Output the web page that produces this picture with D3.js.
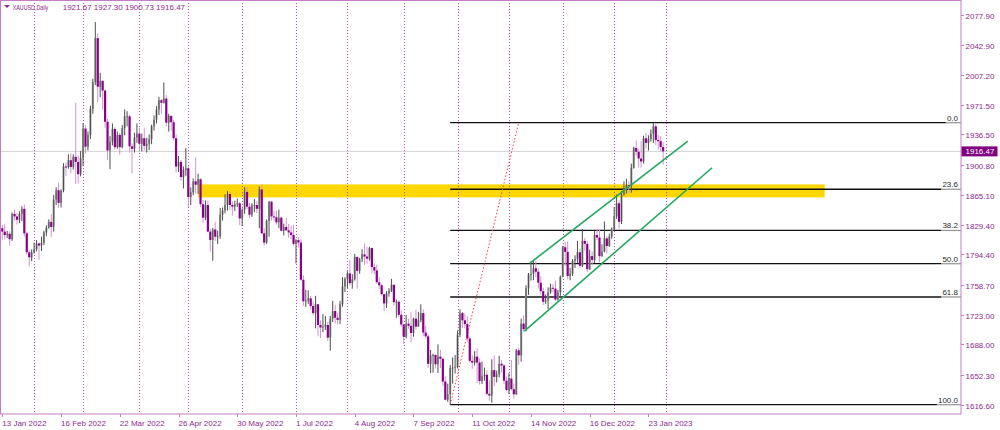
<!DOCTYPE html>
<html><head><meta charset="utf-8">
<script src="https://cdn.jsdelivr.net/npm/d3@7"></script>
<style>
body{margin:0;background:#fff;}
svg{display:block;}
text{font-family:"Liberation Sans",Arial,sans-serif;}
</style>
</head><body>
<svg id="chart" width="1000" height="430"></svg>
<script>
// ---------- DATA ----------
const symbolName = "XAUUSD,Daily";
const firstDay = "2022-01-13";
const lastDay = "2023-01-31";
const closedDays = ["2022-04-15", "2022-12-26", "2023-01-02"];

const open = [
1825.5,1821.5,1817.5,1819.0,1812.5,1842.5,1839.5,1835.5,1842.5,1848.5,
1819.5,1797.0,1791.0,1797.0,1801.0,1807.5,1805.0,1808.0,1820.5,1826.0,
1833.0,1827.0,1859.5,1870.5,1855.5,1870.0,1898.5,1898.0,1906.0,1898.0,
1910.0,1904.0,1889.5,1908.5,1943.5,1922.0,1936.0,1966.5,1998.5,2050.5,
1993.0,2000.0,1988.5,1951.5,1917.5,1928.0,1943.0,1921.5,1936.0,1921.5,
1944.0,1958.0,1958.0,1922.5,1919.5,1933.0,1937.5,1925.5,1932.0,1923.0,
1925.5,1931.0,1946.0,1954.0,1966.0,1977.0,1974.0,1979.0,1950.5,1958.5,
1951.0,1932.0,1898.5,1904.0,1886.0,1894.5,1896.5,1862.5,1868.0,1881.0,
1877.0,1883.5,1854.0,1838.0,1853.0,1821.5,1811.5,1824.0,1815.5,1816.0,
1841.5,1846.5,1853.0,1866.0,1853.0,1851.0,1853.5,1855.0,1837.0,1847.5,
1868.5,1851.0,1841.5,1852.5,1853.0,1848.5,1871.5,1819.5,1808.5,1834.0,
1857.0,1839.5,1838.5,1832.5,1838.0,1822.5,1827.0,1823.0,1820.5,1817.5,
1807.0,1811.5,1808.5,1764.5,1739.0,1740.0,1742.5,1733.5,1725.0,1735.5,
1711.0,1708.0,1709.0,1711.0,1696.0,1718.5,1727.5,1719.5,1717.0,1735.5,
1756.5,1765.5,1772.0,1760.5,1765.0,1791.5,1775.0,1789.0,1794.5,1792.0,
1789.5,1802.0,1779.5,1775.5,1761.5,1758.0,1747.5,1736.5,1748.5,1751.5,
1758.5,1738.0,1738.5,1723.0,1711.5,1697.0,1712.5,1710.0,1701.5,1718.5,
1709.0,1716.5,1725.0,1702.0,1697.5,1665.0,1675.0,1675.5,1664.5,1673.5,
1671.0,1644.0,1622.5,1629.0,1660.0,1660.5,1661.5,1699.5,1725.0,1716.5,
1712.0,1695.0,1668.5,1666.5,1673.5,1666.5,1644.5,1650.5,1652.0,1629.5,
1627.5,1657.5,1649.5,1652.5,1665.0,1663.0,1645.0,1634.0,1647.5,1635.0,
1629.0,1681.0,1675.0,1712.5,1706.0,1754.5,1771.0,1771.5,1778.0,1774.0,
1761.0,1751.0,1738.5,1740.0,1749.5,1755.0,1754.0,1741.0,1749.5,1768.0,
1803.0,1797.5,1769.0,1771.5,1787.0,1789.5,1797.0,1781.0,1810.5,1807.0,
1777.0,1792.5,1788.0,1817.5,1814.5,1792.5,1798.0,1813.5,1804.5,1815.5,
1824.0,1839.5,1855.0,1833.0,1865.5,1872.0,1876.5,1875.5,1897.0,1920.5,
1916.0,1908.0,1904.5,1932.0,1926.5,1931.0,1937.5,1946.0,1930.0,1928.5,
1921.67];

const high = [
1829.5,1831.0,1822.5,1822.0,1844.0,1847.5,1843.5,1845.5,1851.5,1853.5,
1821.5,1799.5,1800.5,1808.5,1811.5,1808.5,1815.5,1822.5,1829.0,1836.0,
1842.0,1865.0,1874.0,1879.5,1871.5,1902.5,1903.0,1913.0,1914.0,1913.0,
1974.0,1911.5,1917.0,1950.0,1947.5,1940.0,1970.5,2002.5,2069.5,2056.0,
2009.5,2000.5,1989.5,1955.0,1934.5,1949.5,1945.0,1940.0,1938.5,1947.5,
1966.0,1964.0,1960.0,1926.0,1938.5,1949.5,1944.5,1937.5,1944.5,1932.5,
1936.5,1948.0,1959.0,1970.0,1981.0,1978.5,1998.0,1983.0,1961.0,1958.5,
1954.0,1936.5,1911.0,1906.5,1898.5,1920.5,1899.0,1874.0,1884.5,1909.5,
1890.0,1884.5,1859.0,1858.5,1858.5,1825.0,1826.0,1833.0,1822.5,1849.5,
1850.0,1865.5,1869.5,1868.5,1857.5,1858.0,1860.5,1856.5,1849.0,1874.0,
1874.0,1855.0,1855.0,1860.0,1857.5,1875.0,1877.5,1825.5,1836.0,1857.5,
1857.0,1846.0,1846.5,1847.5,1839.0,1831.0,1837.5,1830.5,1828.5,1829.5,
1812.5,1815.0,1812.5,1770.0,1752.5,1752.0,1745.5,1738.5,1745.5,1736.0,
1716.5,1724.0,1721.5,1714.5,1721.5,1739.5,1735.0,1725.5,1739.5,1767.5,
1767.5,1774.5,1788.0,1771.0,1795.0,1792.0,1790.5,1800.5,1807.5,1803.5,
1803.5,1802.5,1783.5,1782.5,1767.5,1759.5,1748.0,1751.0,1754.5,1765.5,
1759.5,1741.0,1740.0,1728.0,1712.5,1723.0,1718.5,1726.0,1719.5,1729.0,
1726.5,1735.5,1729.5,1710.0,1700.0,1681.5,1677.0,1676.0,1688.0,1681.5,
1672.5,1650.0,1641.5,1663.5,1672.5,1675.5,1704.5,1729.5,1726.5,1724.5,
1721.5,1697.0,1675.5,1680.0,1683.5,1671.5,1667.5,1660.5,1657.0,1645.5,
1670.5,1675.0,1657.0,1674.5,1669.5,1664.5,1650.0,1654.0,1669.5,1641.5,
1682.5,1684.0,1718.5,1722.5,1758.0,1772.5,1786.0,1787.0,1786.5,1777.5,
1768.5,1755.0,1747.0,1755.5,1760.0,1759.5,1763.5,1752.5,1769.5,1804.5,
1809.5,1810.0,1778.5,1789.0,1793.5,1810.5,1801.0,1824.5,1814.0,1810.5,
1800.0,1798.0,1822.5,1825.0,1823.5,1806.5,1833.5,1816.0,1819.0,1826.5,
1850.5,1865.5,1858.5,1869.5,1881.0,1884.0,1881.0,1902.0,1922.0,1929.5,
1919.5,1928.5,1935.0,1938.0,1935.5,1942.5,1950.4,1949.0,1936.0,1934.5,
1927.30];

const low = [
1812.0,1812.5,1814.0,1805.0,1810.5,1834.5,1830.0,1831.5,1834.0,1815.5,
1794.5,1780.5,1786.5,1795.5,1798.0,1788.0,1798.5,1805.5,1816.0,1825.0,
1815.0,1821.5,1853.0,1849.5,1850.0,1868.0,1887.5,1896.0,1890.5,1895.0,
1878.0,1878.5,1887.0,1899.0,1914.0,1917.5,1931.0,1961.0,1995.0,1975.0,
1980.5,1966.0,1944.5,1906.0,1895.5,1923.5,1918.5,1919.5,1912.5,1920.0,
1935.5,1946.0,1915.0,1890.5,1915.0,1926.5,1916.5,1916.5,1917.5,1915.0,
1918.0,1925.0,1941.0,1949.5,1959.5,1961.0,1973.0,1946.5,1940.0,1941.0,
1929.5,1891.5,1892.0,1881.5,1872.5,1887.5,1850.5,1853.0,1864.5,1866.5,
1866.0,1850.5,1832.0,1835.0,1820.5,1798.0,1787.0,1810.5,1807.0,1813.0,
1834.5,1843.0,1846.5,1847.0,1840.5,1846.0,1850.5,1829.0,1828.0,1842.5,
1848.0,1837.5,1839.0,1844.5,1843.5,1825.5,1818.5,1805.0,1807.0,1815.5,
1834.5,1833.5,1830.0,1825.5,1821.5,1817.0,1822.5,1814.0,1812.5,1805.0,
1784.0,1802.5,1763.0,1733.5,1732.5,1736.0,1729.0,1722.5,1707.0,1697.5,
1695.5,1702.5,1705.0,1692.0,1680.5,1714.5,1712.5,1711.5,1712.0,1732.5,
1750.0,1754.5,1757.5,1754.0,1763.5,1754.0,1771.5,1785.5,1782.0,1783.5,
1787.0,1772.0,1771.0,1760.0,1753.5,1746.0,1727.5,1731.0,1744.5,1750.0,
1734.0,1719.5,1720.5,1709.0,1688.5,1695.0,1706.5,1690.5,1697.0,1705.5,
1709.0,1714.0,1697.5,1695.0,1660.0,1654.0,1654.5,1659.5,1654.0,1660.0,
1639.0,1621.5,1620.0,1616.6,1641.5,1653.5,1659.5,1696.5,1707.5,1707.0,
1690.5,1666.5,1659.0,1663.0,1642.5,1640.5,1641.0,1645.0,1627.5,1621.5,
1619.0,1638.5,1643.0,1649.0,1655.0,1641.0,1632.5,1629.0,1633.5,1624.0,
1628.0,1664.0,1667.5,1703.0,1703.5,1746.5,1763.5,1764.0,1767.5,1754.5,
1747.0,1734.5,1736.0,1730.0,1748.0,1749.5,1739.5,1740.0,1745.5,1767.5,
1781.0,1765.0,1764.0,1769.0,1778.5,1784.5,1779.0,1779.5,1799.0,1773.5,
1776.0,1781.5,1784.5,1811.5,1785.0,1791.5,1797.0,1795.5,1803.5,1813.0,
1822.5,1836.5,1825.0,1830.5,1864.0,1866.5,1867.0,1867.5,1896.0,1911.5,
1897.5,1897.0,1902.0,1920.0,1917.5,1928.0,1926.5,1924.0,1918.5,1916.0,
1900.73];

const close = [
1821.5,1817.5,1819.0,1812.5,1842.5,1839.5,1835.5,1842.5,1848.5,1819.5,
1797.0,1791.0,1797.0,1801.0,1807.5,1805.0,1808.0,1820.5,1826.0,1833.0,
1827.0,1859.5,1870.5,1855.5,1870.0,1898.5,1898.0,1906.0,1898.0,1910.0,
1904.0,1889.5,1908.5,1943.5,1922.0,1936.0,1966.5,1998.5,2050.5,1993.0,
2000.0,1988.5,1951.5,1917.5,1928.0,1943.0,1921.5,1936.0,1921.5,1944.0,
1958.0,1958.0,1922.5,1919.5,1933.0,1937.5,1925.5,1932.0,1923.0,1925.5,
1931.0,1946.0,1954.0,1966.0,1977.0,1974.0,1979.0,1950.5,1958.5,1951.0,
1932.0,1898.5,1904.0,1886.0,1894.5,1896.5,1862.5,1868.0,1881.0,1877.0,
1883.5,1854.0,1838.0,1853.0,1821.5,1811.5,1824.0,1815.5,1816.0,1841.5,
1846.5,1853.0,1866.0,1853.0,1851.0,1853.5,1855.0,1837.0,1847.5,1868.5,
1851.0,1841.5,1852.5,1853.0,1848.5,1871.5,1819.5,1808.5,1834.0,1857.0,
1839.5,1838.5,1832.5,1838.0,1822.5,1827.0,1823.0,1820.5,1817.5,1807.0,
1811.5,1808.5,1764.5,1739.0,1740.0,1742.5,1733.5,1725.0,1735.5,1711.0,
1708.0,1709.0,1711.0,1696.0,1718.5,1727.5,1719.5,1717.0,1735.5,1756.5,
1765.5,1772.0,1760.5,1765.0,1791.5,1775.0,1789.0,1794.5,1792.0,1789.5,
1802.0,1779.5,1775.5,1761.5,1758.0,1747.5,1736.5,1748.5,1751.5,1758.5,
1738.0,1738.5,1723.0,1711.5,1697.0,1712.5,1710.0,1701.5,1718.5,1709.0,
1716.5,1725.0,1702.0,1697.5,1665.0,1675.0,1675.5,1664.5,1673.5,1671.0,
1644.0,1622.5,1629.0,1660.0,1660.5,1661.5,1699.5,1725.0,1716.5,1712.0,
1695.0,1668.5,1666.5,1673.5,1666.5,1644.5,1650.5,1652.0,1629.5,1627.5,
1657.5,1649.5,1652.5,1665.0,1663.0,1645.0,1634.0,1647.5,1635.0,1629.0,
1681.0,1675.0,1712.5,1706.0,1754.5,1771.0,1771.5,1778.0,1774.0,1761.0,
1751.0,1738.5,1740.0,1749.5,1755.0,1754.0,1741.0,1749.5,1768.0,1803.0,
1797.5,1769.0,1771.5,1787.0,1789.5,1797.0,1781.0,1810.5,1807.0,1777.0,
1792.5,1788.0,1817.5,1814.5,1792.5,1798.0,1813.5,1804.5,1815.5,1824.0,
1839.5,1855.0,1833.0,1865.5,1872.0,1876.5,1875.5,1897.0,1920.5,1916.0,
1908.0,1904.5,1932.0,1926.5,1931.0,1937.5,1946.0,1930.0,1928.5,1921.67,
1916.47];

const xTickLabels = ["13 Jan 2022","16 Feb 2022","22 Mar 2022","26 Apr 2022","30 May 2022","1 Jul 2022",
  "4 Aug 2022","7 Sep 2022","11 Oct 2022","14 Nov 2022","16 Dec 2022","23 Jan 2023"];
const priceTicks = [2077.90,2042.90,2007.20,1971.50,1936.50,1900.80,1865.10,1829.40,1794.40,1758.70,1723.00,1688.00,1652.30,1616.60];
const monthStarts = ["1 Feb 2022","1 Mar 2022","1 Apr 2022","2 May 2022","1 Jun 2022","1 Jul 2022","1 Aug 2022",
  "1 Sep 2022","3 Oct 2022","1 Nov 2022","1 Dec 2022","3 Jan 2023","1 Feb 2023"];

// Fibonacci retracement (price low / high, anchor bars)
const fibLevels = [0, 23.6, 38.2, 50.0, 61.8, 100.0];
const fibLow = 1616.6, fibHigh = 1950.4;
const fibStartDate = "28 Sep 2022";
const fibDiagonalEndBar = 211;     // bar index of the dotted anchor end
// supply/demand zone
const zonePrices = [1862.0, 1877.4];
const zoneBars = [80, 336];
// trend channel [bar index, price]
const channelUpper = [[215.5, 1784.0], [280.1, 1928.7]];
const channelLower = [[213.3, 1703.8], [290.0, 1897.1]];

// ---------- BUILD ----------
const parse = d3.timeParse("%Y-%m-%d");
const fmt = d3.timeFormat("%-d %b %Y");
const iso = d3.timeFormat("%Y-%m-%d");
const dates = [];
for (let d = parse(firstDay); d <= parse(lastDay); d = d3.timeDay.offset(d, 1)) {
  const wd = d.getDay();
  if (wd === 0 || wd === 6 || closedDays.includes(iso(d))) continue;
  dates.push(fmt(d));
}
const barIndex = s => { const k = dates.indexOf(s); return k < 0 ? dates.length : k; };

const svg = d3.select("#chart");
const plotR = 961, plotB = 414;

const x = d3.scaleLinear().domain([0, 264]).range([2.3, 648.44]);
const y = d3.scaleLinear().domain([1616.6, 2077.9]).range([404.7, 15]);

const purple = "#8e2a8e";
const frameCol = "#c27ec2";

svg.append("defs").append("clipPath").attr("id", "clip")
  .append("rect").attr("x", 0).attr("y", 0).attr("width", plotR).attr("height", plotB);

const plot = svg.append("g").attr("clip-path", "url(#clip)");

// current price line
const lastClose = close[close.length - 1];
plot.append("line").attr("x1", 0).attr("x2", plotR)
  .attr("y1", y(lastClose)).attr("y2", y(lastClose))
  .attr("stroke", "#d2d2d2").attr("stroke-width", 1);

// yellow zone
plot.append("rect")
  .attr("x", x(zoneBars[0])).attr("width", x(zoneBars[1]) - x(zoneBars[0]))
  .attr("y", y(zonePrices[1])).attr("height", y(zonePrices[0]) - y(zonePrices[1]))
  .attr("fill", "#FFD700");

// month separators
plot.selectAll("line.sep").data(monthStarts).join("line").attr("class", "sep")
  .attr("x1", d => Math.round(x(barIndex(d))) + 0.5).attr("x2", d => Math.round(x(barIndex(d))) + 0.5)
  .attr("y1", 0).attr("y2", plotB)
  .attr("stroke", "#b94fb9").attr("stroke-width", 1).attr("stroke-dasharray", "1,2");

// fib lines with labels
const fibX0 = x(barIndex(fibStartDate));
const fibPrice = lv => fibHigh - (fibHigh - fibLow) * lv / 100;
const fibG = plot.append("g");
fibLevels.forEach(lv => {
  const fy = y(fibPrice(lv));
  const t = fibG.append("text").attr("x", plotR - 3).attr("y", fy - 2)
    .attr("text-anchor", "end").attr("font-size", 8).attr("fill", "#2a2a2a")
    .text(lv.toFixed(1));
  const tw = t.node().getComputedTextLength();
  const lx = plotR - 3 - tw - 1;
  fibG.insert("line", "text").attr("x1", fibX0).attr("x2", lx).attr("y1", fy).attr("y2", fy)
    .attr("stroke", "#111").attr("stroke-width", 1.3);
  fibG.insert("line", "text").attr("x1", lx).attr("x2", plotR).attr("y1", fy).attr("y2", fy)
    .attr("stroke", "#9a9a9a").attr("stroke-width", 1.3);
});

// fib diagonal
plot.append("line")
  .attr("x1", fibX0).attr("y1", y(fibLow))
  .attr("x2", x(fibDiagonalEndBar)).attr("y2", y(fibHigh))
  .attr("stroke", "#ff3b3b").attr("stroke-width", 1).attr("stroke-dasharray", "1.5,2");

// candles
const bw = 2.2;
const cg = plot.append("g");
d3.range(close.length).forEach(i => {
  const up = close[i] >= open[i];
  const cx = x(i);
  const top = y(Math.max(open[i], close[i]));
  const bot = y(Math.min(open[i], close[i]));
  if (up) {
    cg.append("rect").attr("x", cx - bw / 2).attr("y", top).attr("width", bw)
      .attr("height", Math.max(1, bot - top)).attr("fill", "#a3a3a3");
    cg.append("line").attr("x1", cx).attr("x2", cx).attr("y1", y(high[i])).attr("y2", y(low[i]))
      .attr("stroke", "#4e4e4e").attr("stroke-width", 1);
  } else {
    cg.append("line").attr("x1", cx).attr("x2", cx).attr("y1", y(high[i])).attr("y2", y(low[i]))
      .attr("stroke", "#d393d3").attr("stroke-width", 1);
    cg.append("rect").attr("x", cx - bw / 2).attr("y", top).attr("width", bw)
      .attr("height", Math.max(1, bot - top)).attr("fill", "#8b008b");
  }
});

// channel
[channelUpper, channelLower].forEach(c => {
  plot.append("line")
    .attr("x1", x(c[0][0])).attr("y1", y(c[0][1]))
    .attr("x2", x(c[1][0])).attr("y2", y(c[1][1]))
    .attr("stroke", "#23a862").attr("stroke-width", 1.6);
});

// frame
svg.append("rect").attr("x", 0.5).attr("y", 0.5).attr("width", plotR - 0.5).attr("height", plotB - 0.5)
  .attr("fill", "none").attr("stroke", frameCol).attr("stroke-width", 1);

// x axis
const xt = svg.append("g");
xTickLabels.forEach(lbl => {
  const px = x(barIndex(lbl));
  xt.append("line").attr("x1", Math.round(px) + 0.5).attr("x2", Math.round(px) + 0.5)
    .attr("y1", plotB).attr("y2", plotB + 3).attr("stroke", frameCol);
  xt.append("text").attr("x", px).attr("y", 425.5).attr("font-size", 8).attr("fill", purple).text(lbl);
});

// y axis
const yt = svg.append("g");
priceTicks.forEach(p => {
  const py = Math.round(y(p)) + 0.5;
  yt.append("line").attr("x1", plotR).attr("x2", plotR + 3).attr("y1", py).attr("y2", py).attr("stroke", frameCol);
  yt.append("text").attr("x", 965.5).attr("y", py + 3).attr("font-size", 8).attr("fill", purple).text(p.toFixed(2));
});

// current price tag
const cy = y(lastClose);
svg.append("rect").attr("x", 961.5).attr("y", cy - 5).attr("width", 36).attr("height", 10).attr("fill", "#800080");
svg.append("text").attr("x", 965.5).attr("y", cy + 3).attr("font-size", 8).attr("fill", "#fff").text(lastClose.toFixed(2));

// header
svg.append("path").attr("d", "M4,5 L10,5 L7,8 Z").attr("fill", purple);
svg.append("text").attr("x", 12.7).attr("y", 10).attr("font-size", 8).attr("fill", purple)
  .attr("textLength", 35.6).attr("lengthAdjust", "spacingAndGlyphs").text(symbolName);
svg.append("text").attr("x", 62.7).attr("y", 10).attr("font-size", 8).attr("fill", purple)
  .text([open, high, low, close].map(a => a[a.length - 1].toFixed(2)).join(" "));
</script>
</body></html>
